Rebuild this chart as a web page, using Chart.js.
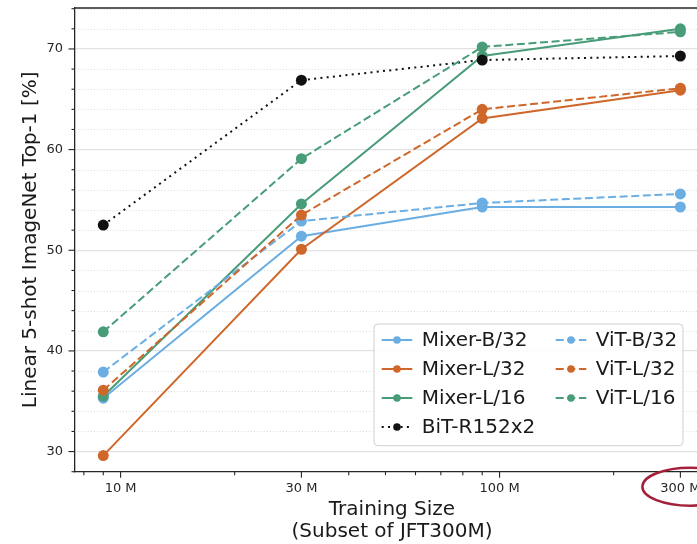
<!DOCTYPE html>
<html>
<head>
<meta charset="utf-8">
<script src="https://cdn.jsdelivr.net/npm/chart.js@4/dist/chart.umd.min.js"></script>
<style>
  html, body { margin: 0; padding: 0; background: #fff; overflow: hidden; width: 697px; height: 544px; }
  canvas { display: block; }
</style>
</head>
<body>
<canvas id="c" width="720" height="544"></canvas>
<script>
// ---- data ----
const trainingSizesM = [9, 30, 90, 300];
const seriesNames = ['Mixer-B/32', 'Mixer-L/32', 'Mixer-L/16', 'BiT-R152x2', 'ViT-B/32', 'ViT-L/32', 'ViT-L/16'];
const mixerB32 = [35.3, 51.4, 54.3, 54.3];
const mixerL32 = [29.6, 50.1, 63.1, 65.9];
const mixerL16 = [35.5, 54.6, 69.3, 72.0];
const bitR152x2 = [52.5, 66.9, 68.9, 69.3];
const vitB32 = [37.9, 52.9, 54.7, 55.6];
const vitL32 = [36.1, 53.5, 64.0, 66.1];
const vitL16 = [41.9, 59.1, 70.2, 71.7];
const xTickValues = [10, 30, 100, 300];
const xTickLabels = ['10 M', '30 M', '100 M', '300 M'];
const xMinorTickValues = [8, 9, 20, 40, 50, 60, 70, 80, 90, 200];
const yMajorTickValues = [30, 40, 50, 60, 70];
const xTitle = ['Training Size', '(Subset of JFT300M)'];
const yTitle = 'Linear 5-shot ImageNet Top-1 [%]';

// ---- styles ----
const BLUE = '#6aaee3', ORANGE = '#cf672a', GREEN = '#489c78', BLACK = '#111111';
const FONT = 'DejaVu Sans';
const SOLID = [], DASHED = [8, 3.6], DOTTED = [2, 4.3];
const allValues = [mixerB32, mixerL32, mixerL16, bitR152x2, vitB32, vitL32, vitL16];
const colors = [BLUE, ORANGE, GREEN, BLACK, BLUE, ORANGE, GREEN];
const dashes = [SOLID, SOLID, SOLID, DOTTED, DASHED, DASHED, DASHED];

const datasets = allValues.map((vals, i) => ({
  label: seriesNames[i],
  data: trainingSizesM.map((x, j) => ({ x: x, y: vals[j] })),
  borderColor: colors[i],
  backgroundColor: colors[i],
  pointBackgroundColor: colors[i],
  pointBorderColor: colors[i],
  pointBorderWidth: 0,
  pointRadius: 5.5,
  borderWidth: 2,
  borderDash: dashes[i],
  tension: 0,
  order: allValues.length - i
}));

const deco = {
  id: 'deco',
  beforeDatasetsDraw(chart) {
    const ctx = chart.ctx, a = chart.chartArea;
    const ys = chart.scales.y, xs = chart.scales.x;
    ctx.save();
    // minor dotted horizontal grid
    ctx.strokeStyle = '#d6d6d6';
    ctx.lineWidth = 0.9;
    ctx.setLineDash([1, 2.2]);
    ys.ticks.forEach(t => {
      if (yMajorTickValues.indexOf(t.value) >= 0) return;
      const py = Math.round(ys.getPixelForValue(t.value)) + 0.5;
      if (py < a.top + 1 || py > a.bottom - 1) return;
      ctx.beginPath(); ctx.moveTo(a.left, py); ctx.lineTo(a.right, py); ctx.stroke();
    });
    ctx.setLineDash([]);
    // y tick marks
    ctx.strokeStyle = '#262626';
    ctx.lineWidth = 1.1;
    ys.ticks.forEach(t => {
      const py = ys.getPixelForValue(t.value);
      const major = yMajorTickValues.indexOf(t.value) >= 0;
      const len = major ? 6.5 : 3.5;
      ctx.beginPath(); ctx.moveTo(a.left, py); ctx.lineTo(a.left - len, py); ctx.stroke();
    });
    // x tick marks
    xs.ticks.forEach(t => {
      const px = xs.getPixelForValue(t.value);
      const major = xTickValues.indexOf(t.value) >= 0;
      const len = major ? 6 : 3.5;
      ctx.beginPath(); ctx.moveTo(px, a.bottom); ctx.lineTo(px, a.bottom + len); ctx.stroke();
    });
    // top spine
    ctx.lineWidth = 1.3;
    ctx.beginPath(); ctx.moveTo(a.left, a.top); ctx.lineTo(a.right, a.top); ctx.stroke();
    ctx.restore();
  },
  afterDraw(chart) {
    const ctx = chart.ctx, a = chart.chartArea;
    ctx.save();
    // legend
    const w = 309, h = 121.7;
    const lx = a.right - 26 - w, ly = a.bottom - 26 - h;
    ctx.beginPath();
    ctx.roundRect(lx, ly, w, h, 4);
    ctx.fillStyle = 'rgba(255,255,255,0.85)';
    ctx.fill();
    ctx.strokeStyle = '#cfcfcf';
    ctx.lineWidth = 1;
    ctx.stroke();
    ctx.font = '20px "' + FONT + '"';
    ctx.textBaseline = 'middle';
    ctx.textAlign = 'left';
    chart.data.datasets.forEach((ds, i) => {
      const col = i < 4 ? 0 : 1;
      const row = i < 4 ? i : i - 4;
      const hx = lx + 7.7 + col * 174;
      const cy = ly + 16 + row * 29;
      ctx.strokeStyle = ds.borderColor;
      ctx.lineWidth = 2;
      ctx.setLineDash(ds.borderDash);
      ctx.beginPath(); ctx.moveTo(hx, cy); ctx.lineTo(hx + 30.6, cy); ctx.stroke();
      ctx.setLineDash([]);
      ctx.fillStyle = ds.borderColor;
      ctx.beginPath(); ctx.arc(hx + 15.3, cy, 3.8, 0, Math.PI * 2); ctx.fill();
      ctx.fillStyle = '#1a1a1a';
      ctx.fillText(ds.label, hx + 40, cy + 1);
    });
    // red ellipse around the 300 M label
    const xs = chart.scales.x;
    const ex = xs.getPixelForValue(300) + 10;
    ctx.strokeStyle = '#a3223a';
    ctx.lineWidth = 2.5;
    ctx.beginPath();
    ctx.ellipse(ex, a.bottom + 15, 48, 19, 0, 0, Math.PI * 2);
    ctx.stroke();
    ctx.restore();
  }
};

new Chart(document.getElementById('c'), {
  type: 'line',
  data: { datasets: datasets },
  plugins: [deco],
  options: {
    responsive: false,
    devicePixelRatio: 1,
    animation: false,
    events: [],
    layout: { padding: { left: 0, top: 8, right: 11, bottom: 0 } },
    plugins: { legend: { display: false }, tooltip: { enabled: false } },
    scales: {
      x: {
        type: 'logarithmic',
        min: 7.58,
        max: 357,
        afterBuildTicks: s => {
          s.ticks = xMinorTickValues.concat(xTickValues).sort((p, q) => p - q).map(v => ({ value: v }));
        },
        afterFit: s => { s.height = 72.3; s.paddingLeft = 0; s.paddingRight = 0; s.paddingTop = 0; s.paddingBottom = 0; },
        grid: { display: false, drawTicks: false },
        border: { display: true, color: '#262626', width: 1.3 },
        ticks: {
          autoSkip: false, maxRotation: 0, minRotation: 0, padding: 9,
          color: '#262626', font: { family: FONT, size: 13 },
          callback: (v) => { const k = xTickValues.indexOf(v); return k >= 0 ? xTickLabels[k] : ''; }
        },
        title: {
          display: true, text: xTitle, color: '#1a1a1a',
          font: { family: FONT, size: 20, lineHeight: 1.085 },
          padding: { top: 0, bottom: 1.5 }
        }
      },
      y: {
        type: 'linear',
        min: 28.0,
        max: 74.07,
        afterBuildTicks: s => {
          const t = [];
          for (let v = 28; v <= 74; v += 2) t.push({ value: v });
          s.ticks = t;
        },
        afterFit: s => { s.width = 75; s.paddingTop = 0; s.paddingBottom = 0; s.paddingLeft = 0; s.paddingRight = 0; },
        grid: {
          drawTicks: false,
          color: c => (c.tick && yMajorTickValues.indexOf(c.tick.value) >= 0) ? '#e2e2e2' : 'rgba(0,0,0,0)',
          lineWidth: 1.3
        },
        border: { display: true, color: '#262626', width: 1.3 },
        ticks: {
          autoSkip: false, padding: 12,
          color: '#262626', font: { family: FONT, size: 13 },
          callback: (v) => yMajorTickValues.indexOf(v) >= 0 ? String(v) : ''
        },
        title: {
          display: true, text: yTitle, color: '#1a1a1a',
          font: { family: FONT, size: 20, lineHeight: 1.2 },
          padding: { top: 19, bottom: 0 }
        }
      }
    }
  }
});
</script>
</body>
</html>
